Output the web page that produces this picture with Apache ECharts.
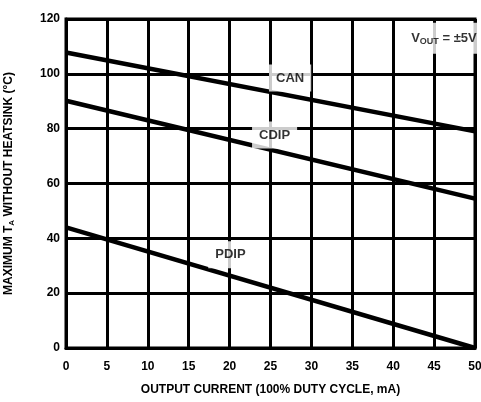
<!DOCTYPE html>
<html><head><meta charset="utf-8">
<script src="https://cdn.jsdelivr.net/npm/echarts@6/dist/echarts.min.js"></script>
<style>html,body{margin:0;padding:0;background:#fff}#c{width:481px;height:402px}</style>
</head><body><div id="c"></div>
<script>
const xTicks = [0,5,10,15,20,25,30,35,40,45,50];
const yTicks = [0,20,40,60,80,100,120];
const canLine = [[0,107.8],[50,79]];
const cdipLine = [[0,90.2],[50,54.5]];
const pdipLine = [[0,44],[50,0]];
const curveLabels = [
  {name:'CAN', value:[27.4,98.5]},
  {name:'CDIP', value:[25.5,77.7]},
  {name:'PDIP', value:[20.1,34]}
];
const noteLabel = [{name:'vout', value:[46.2,113]}];

const font = 'Liberation Sans, Arial, sans-serif';
const chart = echarts.init(document.getElementById('c'));
const lineS = d => ({type:'line', data:d, symbol:'none', lineStyle:{color:'#000', width:4.5}, z:3});
chart.setOption({
  animation:false,
  grid:{left:66, right:6, top:19, bottom:54, show:true, borderColor:'#000', borderWidth:3,
    containLabel:false, outerBoundsMode:'none'},
  xAxis:{type:'value', min:0, max:50, interval:5,
    axisLine:{lineStyle:{color:'#000', width:3}}, axisTick:{show:false},
    splitLine:{lineStyle:{color:'#000', width:3}},
    axisLabel:{color:'#000', fontWeight:'bold', fontSize:12, fontFamily:font, margin:13},
    name:'OUTPUT CURRENT (100% DUTY CYCLE, mA)', nameLocation:'middle', nameGap:36,
    nameTextStyle:{color:'#000', fontWeight:'bold', fontSize:12, fontFamily:font}},
  yAxis:{type:'value', min:0, max:120, interval:20,
    axisLine:{lineStyle:{color:'#000', width:3}}, axisTick:{show:false},
    splitLine:{lineStyle:{color:'#000', width:3}},
    axisLabel:{color:'#000', fontWeight:'bold', fontSize:12, fontFamily:font, margin:6},
    name:'{a|MAXIMUM T}{s|A}{a| WITHOUT HEATSINK (°C)}', nameLocation:'middle', nameGap:50,
    nameTextStyle:{color:'#000', fontWeight:'bold', fontSize:12, fontFamily:font,
      rich:{a:{color:'#000', fontWeight:'bold', fontSize:12, fontFamily:font},
            s:{color:'#000', fontWeight:'bold', fontSize:8, fontFamily:font, verticalAlign:'bottom', padding:[6,0,0,0]}}}},
  series:[
    lineS(canLine), lineS(cdipLine), lineS(pdipLine),
    {type:'scatter', data:curveLabels, symbolSize:0, z:5,
      label:{show:true, position:'inside', formatter:p=>p.name, color:'#000', fontWeight:'bold',
        fontSize:13, fontFamily:font, backgroundColor:'#fff', padding:[7,7,7,7]}},
    {type:'scatter', data:noteLabel, symbolSize:0, z:5,
      label:{show:true, position:'inside', formatter:'{a|V}{s|OUT}{a| = ±5V}', backgroundColor:'#fff',
        padding:[8,8,8,8],
        rich:{a:{color:'#000', fontWeight:'bold', fontSize:13, fontFamily:font},
              s:{color:'#000', fontWeight:'bold', fontSize:9, fontFamily:font, padding:[6,0,0,0]}}}}
  ]
});
</script></body></html>
